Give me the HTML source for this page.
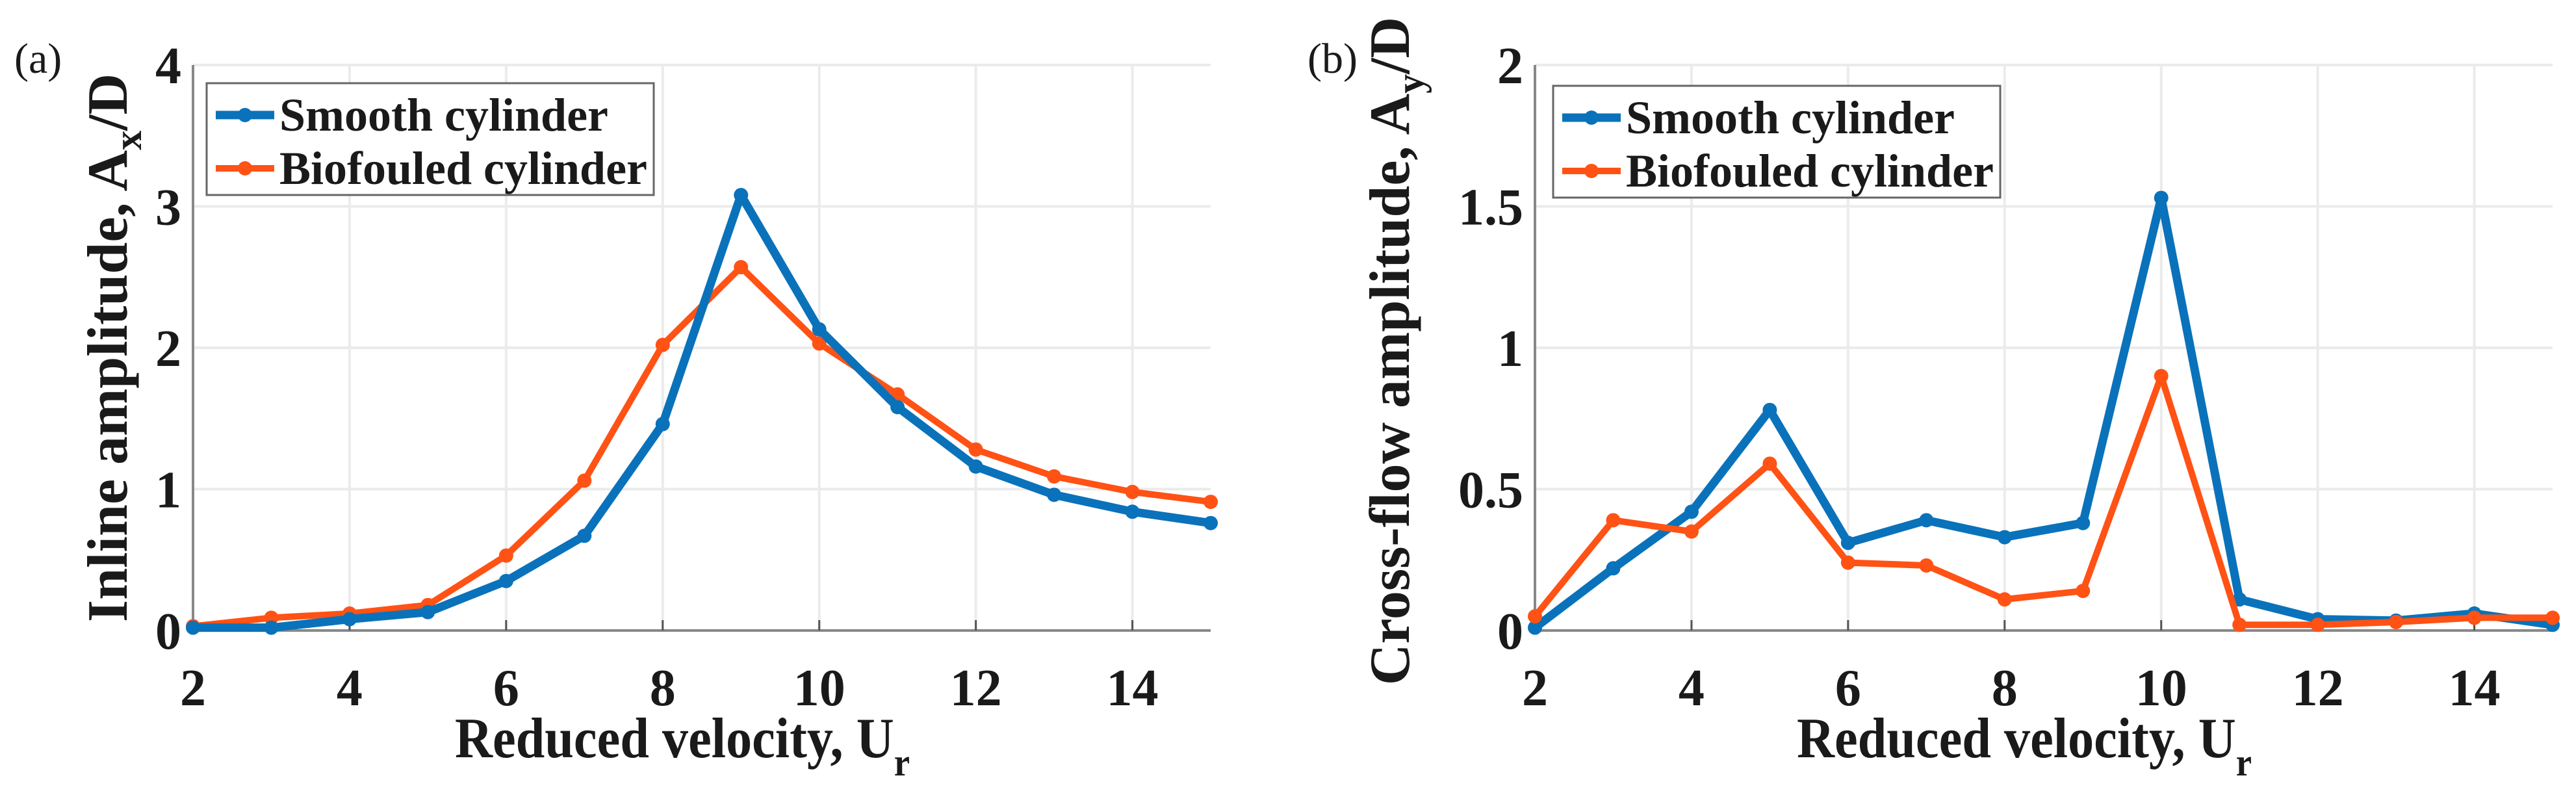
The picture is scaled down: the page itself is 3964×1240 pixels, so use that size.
<!DOCTYPE html>
<html><head><meta charset="utf-8"><style>
html,body{margin:0;padding:0;background:#fff}
svg{display:block;font-family:"Liberation Serif",serif;font-weight:bold}
</style></head><body>
<svg id="chart" width="3964" height="1240" viewBox="0 0 3964 1240" xmlns="http://www.w3.org/2000/svg"></svg>
<script>
const categories=[2,3,4,5,6,7,8,9,10,11,12,13,14,15];
const smoothInline=[0.02,0.02,0.08,0.13,0.35,0.67,1.46,3.08,2.13,1.58,1.16,0.96,0.84,0.76];
const bioInline=[0.03,0.09,0.12,0.18,0.53,1.06,2.02,2.57,2.03,1.67,1.28,1.09,0.98,0.91];
const smoothCross=[0.01,0.22,0.42,0.78,0.31,0.39,0.33,0.38,1.53,0.11,0.04,0.035,0.06,0.02];
const bioCross=[0.05,0.39,0.35,0.59,0.24,0.23,0.11,0.14,0.90,0.02,0.02,0.03,0.045,0.045];
const xTicks=[2,4,6,8,10,12,14];
const yTicksA=[0,1,2,3,4];
const yTicksALabels=["0","1","2","3","4"];
const yTicksB=[0,0.5,1,1.5,2];
const yTicksBLabels=["0","0.5","1","1.5","2"];
const NS="http://www.w3.org/2000/svg";
const svg=document.getElementById('chart');
function mk(tag,attrs,parent){const e=document.createElementNS(NS,tag);for(const k in attrs)e.setAttribute(k,attrs[k]);(parent||svg).appendChild(e);return e;}
function panel(o){
  const g=mk('g',{});
  
  
  const L=o.left,R=o.left+1566,T=100,B=970;
  const xs=v=>L+(v-2)/13*(R-L);
  const ys=v=>B-v/o.ymax*(B-T);
  xTicks.forEach(t=>{const l=mk('line',{x1:xs(t),x2:xs(t),y1:T,y2:B,stroke:'#ebebeb','stroke-width':4},g);
    });
  o.yt.forEach(t=>{const l=mk('line',{x1:L,x2:R,y1:ys(t),y2:ys(t),stroke:'#ebebeb','stroke-width':4},g);
    });
  const ax=mk('path',{d:`M${L},${T} L${L},${B} L${R},${B}`,fill:'none',stroke:'#888','stroke-width':4},g);
  
  xTicks.forEach(t=>{
    const tk=mk('line',{x1:xs(t),x2:xs(t),y1:B,y2:B-16,stroke:'#555','stroke-width':3},g);
    
    const tx=mk('text',{x:xs(t),y:B+115,'text-anchor':'middle','font-size':80,fill:'#1a1a1a'},g);
    tx.textContent=t;
  });
  o.yt.forEach((t,i)=>{
    const tx=mk('text',{x:L-18,y:ys(t)+28,'text-anchor':'end','font-size':80,fill:'#1a1a1a'},g);
    tx.textContent=o.ytl[i];
  });
  [[o.bio,'#FF5214',10,'biofouled'],[o.smooth,'#0A72BA',13,'smooth']].sort((a,b)=>o.order==='bio-top'?(a[3]==='smooth'?-1:1):(a[3]==='bio'?-1:1)).forEach(s=>{
    const pts=categories.map((c,i)=>xs(c)+','+ys(s[0][i])).join(' ');
    const pl=mk('polyline',{points:pts,fill:'none',stroke:s[1],'stroke-width':s[2],'stroke-linejoin':'round'},g);
    
    categories.forEach((c,i)=>{const p=mk('circle',{cx:xs(c),cy:ys(s[0][i]),r:11,fill:s[1]},g);
      });
  });
  const lg=mk('g',{},g);
  const lb=mk('rect',{x:o.lx,y:o.ly,width:o.lw,height:172,fill:'#fff',stroke:'#666','stroke-width':3},lg);
  
  [['Smooth cylinder','#0A72BA',13],['Biofouled cylinder','#FF5214',10]].forEach((e,i)=>{
    const y=o.ly+49+i*82;
    const ln=mk('line',{x1:o.lx+14,x2:o.lx+104,y1:y,y2:y,stroke:e[1],'stroke-width':e[2]},lg);
    
    const c=mk('circle',{cx:o.lx+59,cy:y,r:11,fill:e[1]},lg);
    
    const t=mk('text',{x:o.lx+112,y:y+24,'font-size':72,fill:'#1a1a1a'},lg);
    t.textContent=e[0];
  });
  const xt=mk('text',{x:(L+R)/2-30,y:1165,'text-anchor':'middle','font-size':88,fill:'#1a1a1a',textLength:700,lengthAdjust:'spacingAndGlyphs'},g);
  xt.innerHTML='Reduced velocity, U<tspan font-size="60" dy="28">r</tspan>';
  
  const yt=mk('text',{transform:`translate(${o.ytx},${o.ytc}) rotate(-90)`,'text-anchor':'middle','font-size':88,fill:'#1a1a1a'},g);
  yt.innerHTML=o.ytitle;
  
  const pl=mk('text',{x:o.plx,y:112,'font-size':66,'font-weight':'normal',fill:'#1a1a1a'},g);
  pl.textContent=o.plabel;
}
panel({name:'panel-a-inline',left:297,ymax:4,yt:yTicksA,ytl:yTicksALabels,smooth:smoothInline,bio:bioInline,
  lx:318,ly:128,lw:688,ytx:195,ytc:535,ytitle:'Inline amplitude, A<tspan font-size="60" dy="22">x</tspan><tspan dy="-22">/D</tspan>',plx:22,plabel:'(a)'});
panel({name:'panel-b-crossflow',left:2362,ymax:2,yt:yTicksB,ytl:yTicksBLabels,smooth:smoothCross,bio:bioCross,order:'bio-top',
  lx:2390,ly:132,lw:688,ytx:2168,ytc:540,ytitle:'Cross-flow amplitude, A<tspan font-size="60" dy="22">y</tspan><tspan dy="-22">/D</tspan>',plx:2012,plabel:'(b)'});
</script>
</body></html>
